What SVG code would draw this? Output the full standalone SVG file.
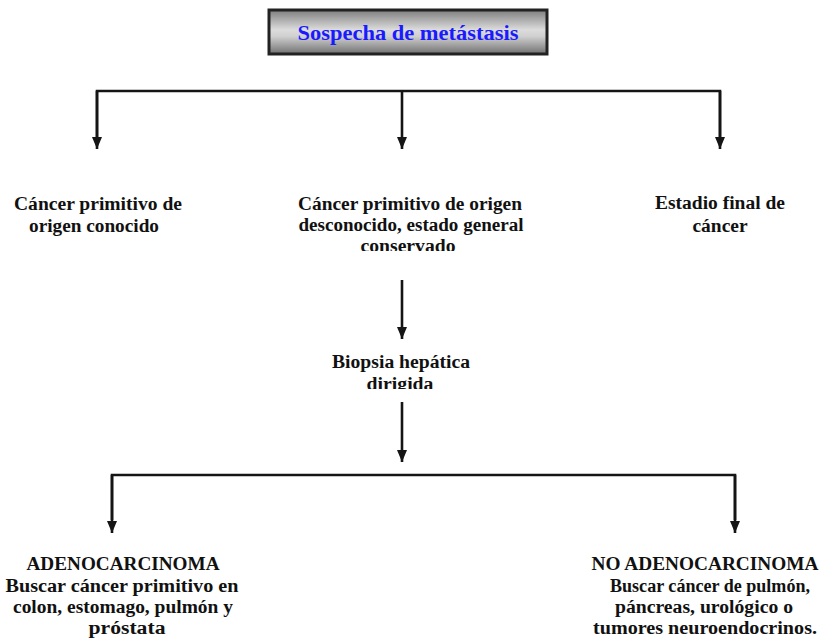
<svg xmlns="http://www.w3.org/2000/svg" width="822" height="643" viewBox="0 0 822 643">
<style>
.t{font-family:"Liberation Serif","Times New Roman",serif;font-weight:bold;font-size:18px;fill:#111;text-anchor:middle}
.title{font-family:"Liberation Serif","Times New Roman",serif;font-weight:bold;font-size:21px;fill:#1a1aff;text-anchor:middle}
.ln{stroke:#151515;stroke-width:2.6;fill:none}
</style>
<defs>
<linearGradient id="g" x1="0" y1="0" x2="0" y2="1">
<stop offset="0" stop-color="#7e7e7e"/>
<stop offset="0.45" stop-color="#dcdcdc"/>
<stop offset="0.6" stop-color="#d0d0d0"/>
<stop offset="1" stop-color="#707070"/>
</linearGradient>
<marker id="ah" viewBox="0 0 12 10" refX="12" refY="5" markerWidth="12" markerHeight="10" markerUnits="userSpaceOnUse" orient="auto">
<path d="M0,0 L12,5 L0,10 Z" fill="#151515"/>
</marker>
<clipPath id="c1"><rect x="280" y="200" width="260" height="51"/></clipPath>
<clipPath id="c2"><rect x="300" y="340" width="220" height="49"/></clipPath>
</defs>
<g id="title">
<rect x="269" y="10" width="278" height="44" fill="url(#g)" stroke="#222" stroke-width="3"/>
<text class="title" x="408" y="40" textLength="221" lengthAdjust="spacingAndGlyphs">Sospecha de metástasis</text>
</g>
<g id="connectors">
<polyline class="ln" points="97,140 97,91 720,91 720,140"/>
<line class="ln" x1="97" y1="91" x2="97" y2="149" marker-end="url(#ah)"/>
<line class="ln" x1="402" y1="91" x2="402" y2="149" marker-end="url(#ah)"/>
<line class="ln" x1="720" y1="91" x2="720" y2="149" marker-end="url(#ah)"/>
<line class="ln" x1="402" y1="280" x2="402" y2="339" marker-end="url(#ah)"/>
<line class="ln" x1="402" y1="402" x2="402" y2="462" marker-end="url(#ah)"/>
<polyline class="ln" points="112,520 112,475 735,475 735,520"/>
<line class="ln" x1="112" y1="475" x2="112" y2="533" marker-end="url(#ah)"/>
<line class="ln" x1="735" y1="475" x2="735" y2="533" marker-end="url(#ah)"/>
</g>
<g id="n-conocido">
<text class="t" x="98" y="210" textLength="168" lengthAdjust="spacingAndGlyphs">Cáncer primitivo de</text>
<text class="t" x="94" y="232" textLength="130" lengthAdjust="spacingAndGlyphs">origen conocido</text>
</g>
<g id="n-desconocido">
<text class="t" x="410" y="210" textLength="224" lengthAdjust="spacingAndGlyphs">Cáncer primitivo de origen</text>
<text class="t" x="411" y="231" textLength="225" lengthAdjust="spacingAndGlyphs">desconocido, estado general</text>
<text class="t" x="408" y="252" textLength="95" lengthAdjust="spacingAndGlyphs" clip-path="url(#c1)">conservado</text>
</g>
<g id="n-final">
<text class="t" x="720" y="209" textLength="130" lengthAdjust="spacingAndGlyphs">Estadio final de</text>
<text class="t" x="720" y="232" textLength="55" lengthAdjust="spacingAndGlyphs">cáncer</text>
</g>
<g id="n-biopsia">
<text class="t" x="401" y="368" textLength="138" lengthAdjust="spacingAndGlyphs">Biopsia hepática</text>
<text class="t" x="400" y="390" textLength="67" lengthAdjust="spacingAndGlyphs" clip-path="url(#c2)">dirigida</text>
</g>
<g id="n-adeno">
<text class="t" x="123" y="570" textLength="193" lengthAdjust="spacingAndGlyphs">ADENOCARCINOMA</text>
<text class="t" x="122" y="592" textLength="233" lengthAdjust="spacingAndGlyphs">Buscar cáncer primitivo en</text>
<text class="t" x="123" y="613" textLength="220" lengthAdjust="spacingAndGlyphs">colon, estomago, pulmón y</text>
<text class="t" x="127" y="634" textLength="77" lengthAdjust="spacingAndGlyphs">próstata</text>
</g>
<g id="n-noadeno">
<text class="t" x="705" y="570" textLength="227" lengthAdjust="spacingAndGlyphs">NO ADENOCARCINOMA</text>
<text class="t" x="710" y="592" textLength="200" lengthAdjust="spacingAndGlyphs">Buscar cáncer de pulmón,</text>
<text class="t" x="704" y="613" textLength="178" lengthAdjust="spacingAndGlyphs">páncreas, urológico o</text>
<text class="t" x="705" y="634" textLength="224" lengthAdjust="spacingAndGlyphs">tumores neuroendocrinos.</text>
</g>
</svg>
